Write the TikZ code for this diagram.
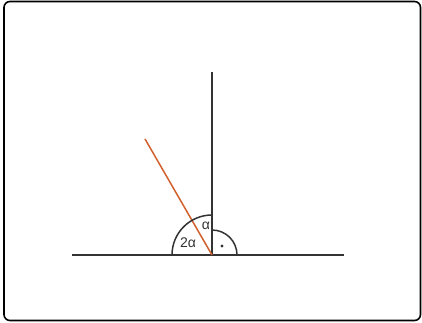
\documentclass[tikz,border=0pt]{standalone}
\usepackage{fontspec}
\setmainfont{Liberation Sans}
\usepackage{xcolor}
\usetikzlibrary{positioning, calc}
\definecolor{inkgray}{HTML}{333333}
\definecolor{rayorange}{HTML}{D2602C}

\begin{document}
\begin{tikzpicture}[
  x=1pt, y=1pt,
  font=\fontsize{14}{16}\selectfont,
  frame/.style={draw=black, line width=1.6pt, rounded corners=6pt},
  leg/.style={draw=inkgray, line width=1.5pt},
  ray/.style={draw=rayorange, line width=1.5pt},
  angarc/.style={draw=inkgray, line width=1.5pt},
  albl/.style={text=inkgray, inner sep=0pt},
]
\useasboundingbox (0,0) rectangle (422,322);
\draw[frame] (4,1.5) rectangle (420.5,320.5);
% --- points ---
\coordinate (O) at (212,67);
\coordinate (L) at (72,67);
\coordinate (R) at (344,67);
\coordinate (T) at (212,250);
\coordinate (E) at ($(O)+(120:134)$);
% --- lines ---
\draw[leg] (L)--(R);
\draw[leg] (O)--(T);
\draw[ray] (O)--(E);
% --- angle marks ---
\draw[angarc] ($(O)+(180:40)$) arc[start angle=180, end angle=90, radius=40];
\draw[angarc] ($(O)+(90:25)$) arc[start angle=90, end angle=0, radius=25];
\fill[inkgray] ($(O)+(10,9)$) circle (1.6);
\node[albl] (a1) at ($(O)+(-6,29)$) {α};
\node[albl] (a2) at ($(O)+(-24,12)$) {2α};
\end{tikzpicture}
\end{document}
